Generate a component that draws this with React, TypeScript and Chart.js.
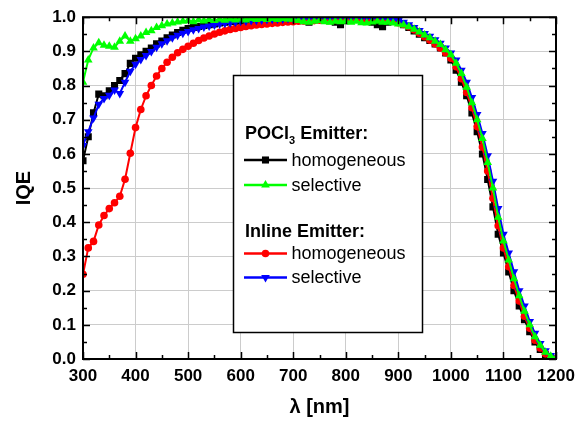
import React, { useEffect, useRef } from "react";
import { Chart, registerables } from "chart.js";

Chart.register(...registerables);

const wavelengths = [
  300, 310, 320, 330, 340, 350, 360, 370, 380, 390,
  400, 410, 420, 430, 440, 450, 460, 470, 480, 490,
  500, 510, 520, 530, 540, 550, 560, 570, 580, 590,
  600, 610, 620, 630, 640, 650, 660, 670, 680, 690,
  700, 710, 720, 730, 740, 750, 760, 770, 780, 790,
  800, 810, 820, 830, 840, 850, 860, 870, 880, 890,
  900, 910, 920, 930, 940, 950, 960, 970, 980, 990,
  1000, 1010, 1020, 1030, 1040, 1050, 1060, 1070, 1080, 1090,
  1100, 1110, 1120, 1130, 1140, 1150, 1160, 1170, 1180, 1190,
  1200,
];

const pocl3Homogeneous = [
  0.58, 0.65, 0.72, 0.775, 0.77, 0.785, 0.8, 0.815, 0.835, 0.865,
  0.88, 0.89, 0.9, 0.91, 0.922, 0.93, 0.94, 0.948, 0.955, 0.962,
  0.967, 0.97, 0.973, 0.976, 0.978, 0.98, 0.983, 0.985, 0.987, 0.988,
  0.99, 0.991, 0.992, 0.993, 0.993, 0.994, 0.995, 0.995, 0.996, 0.996,
  0.996, 0.995, 0.99, 0.985, 0.993, 0.995, 0.994, 0.99, 0.985, 0.978,
  0.99, 0.993, 0.994, 0.993, 0.99, 0.985, 0.978, 0.972, 0.985, 0.99,
  0.985, 0.978, 0.97, 0.96, 0.95, 0.94, 0.932, 0.922, 0.91, 0.895,
  0.875, 0.845, 0.81, 0.77, 0.72, 0.665, 0.6, 0.525, 0.445, 0.365,
  0.31, 0.255, 0.2, 0.155, 0.115, 0.08, 0.05, 0.028, 0.012, 0.004,
  0.001,
];

const pocl3Selective = [
  0.81, 0.875, 0.91, 0.925, 0.918, 0.915, 0.912, 0.93, 0.945, 0.93,
  0.937, 0.945, 0.955, 0.96, 0.97, 0.975, 0.98, 0.983, 0.986, 0.988,
  0.99, 0.987, 0.992, 0.989, 0.993, 0.99, 0.994, 0.991, 0.995, 0.992,
  0.995, 0.992, 0.996, 0.993, 0.996, 0.993, 0.996, 0.993, 0.996, 0.994,
  0.994, 0.99, 0.987, 0.985, 0.988, 0.99, 0.987, 0.985, 0.988, 0.987,
  0.988, 0.985, 0.988, 0.984, 0.983, 0.986, 0.988, 0.985, 0.985, 0.983,
  0.98, 0.977, 0.972, 0.965, 0.957, 0.948, 0.94, 0.93, 0.92, 0.905,
  0.89, 0.865, 0.835, 0.795, 0.75, 0.7, 0.645, 0.575, 0.5, 0.415,
  0.345, 0.29, 0.235, 0.185, 0.14, 0.1, 0.065, 0.04, 0.02, 0.008,
  0.002,
];

const inlineHomogeneous = [
  0.248, 0.325, 0.344, 0.392, 0.42, 0.44, 0.457, 0.476, 0.526, 0.602,
  0.677, 0.73, 0.77, 0.8, 0.828, 0.85, 0.868, 0.883, 0.896, 0.906,
  0.915, 0.924, 0.932, 0.939, 0.945, 0.951, 0.956, 0.96, 0.964, 0.967,
  0.97, 0.973, 0.975, 0.977, 0.979, 0.98, 0.982, 0.983, 0.985, 0.986,
  0.987, 0.988, 0.989, 0.99, 0.99, 0.991, 0.992, 0.992, 0.993, 0.993,
  0.994, 0.994, 0.995, 0.995, 0.995, 0.995, 0.994, 0.993, 0.991, 0.988,
  0.984, 0.979, 0.972, 0.963, 0.953, 0.943, 0.933, 0.922, 0.91, 0.896,
  0.88, 0.855, 0.82, 0.78, 0.735, 0.68, 0.62, 0.55, 0.47, 0.39,
  0.325, 0.27, 0.215, 0.17, 0.125, 0.09, 0.055, 0.032, 0.015, 0.006,
  0.001,
];

const inlineSelective = [
  0.625, 0.665, 0.705, 0.745, 0.762, 0.772, 0.787, 0.777, 0.81, 0.842,
  0.862, 0.876, 0.888, 0.9, 0.912, 0.922, 0.931, 0.94, 0.947, 0.953,
  0.958, 0.963, 0.967, 0.971, 0.974, 0.977, 0.98, 0.982, 0.984, 0.986,
  0.988, 0.989, 0.99, 0.991, 0.992, 0.993, 0.994, 0.995, 0.995, 0.996,
  0.996, 0.997, 0.997, 0.997, 0.998, 0.998, 0.998, 0.998, 0.999, 0.999,
  0.999, 0.999, 0.999, 0.999, 0.999, 0.998, 0.998, 0.997, 0.996, 0.994,
  0.99, 0.985, 0.978, 0.97, 0.961, 0.952, 0.944, 0.934, 0.924, 0.91,
  0.895, 0.875, 0.845, 0.81, 0.765, 0.715, 0.66, 0.595, 0.52, 0.44,
  0.365, 0.31, 0.255, 0.2, 0.155, 0.11, 0.075, 0.045, 0.024, 0.01,
  0.002,
];

const xTickValues = [300, 400, 500, 600, 700, 800, 900, 1000, 1100, 1200];
const yTickValues = [0, 0.1, 0.2, 0.3, 0.4, 0.5, 0.6, 0.7, 0.8, 0.9, 1.0];

const FONT = "'Liberation Sans', Arial, Helvetica, sans-serif";

type Series = {
  label: string;
  values: number[];
  color: string;
  style: string;
  radius: number;
  rotation: number;
  order: number;
};

const seriesList: Series[] = [
  { label: "homogeneous", values: pocl3Homogeneous, color: "#000000", style: "rect", radius: 5, rotation: 0, order: 3 },
  { label: "selective", values: pocl3Selective, color: "#00ff00", style: "triangle", radius: 5, rotation: 0, order: 0 },
  { label: "homogeneous", values: inlineHomogeneous, color: "#ff0000", style: "circle", radius: 3.8, rotation: 0, order: 2 },
  { label: "selective", values: inlineSelective, color: "#0000ff", style: "triangle", radius: 5, rotation: 180, order: 1 },
];

function drawMarker(ctx: CanvasRenderingContext2D, s: Series, x: number, y: number) {
  ctx.save();
  ctx.fillStyle = s.color;
  ctx.beginPath();
  const r = s.radius;
  if (s.style === "rect") {
    const h = r * Math.SQRT1_2;
    ctx.rect(x - h, y - h, 2 * h, 2 * h);
  } else if (s.style === "circle") {
    ctx.arc(x, y, r, 0, Math.PI * 2);
  } else {
    let rad = (s.rotation * Math.PI) / 180;
    ctx.moveTo(x + Math.sin(rad) * r, y - Math.cos(rad) * r);
    rad += (2 * Math.PI) / 3;
    ctx.lineTo(x + Math.sin(rad) * r, y - Math.cos(rad) * r);
    rad += (2 * Math.PI) / 3;
    ctx.lineTo(x + Math.sin(rad) * r, y - Math.cos(rad) * r);
    ctx.closePath();
  }
  ctx.fill();
  ctx.restore();
}

const framePlugin = {
  id: "frameTicks",
  afterDatasetsDraw(chart: any) {
    const { ctx, chartArea } = chart;
    const { left, right, top, bottom } = chartArea;
    const xs = chart.scales.x;
    const ys = chart.scales.y;
    ctx.save();
    ctx.strokeStyle = "#000";
    ctx.lineWidth = 1.5;
    for (let v = 300; v <= 1200; v += 50) {
      const px = Math.round(xs.getPixelForValue(v)) + 0.5;
      const len = v % 100 === 0 ? 7 : 4;
      ctx.beginPath();
      ctx.moveTo(px, bottom);
      ctx.lineTo(px, bottom - len);
      ctx.moveTo(px, top);
      ctx.lineTo(px, top + len);
      ctx.stroke();
    }
    for (let i = 0; i <= 20; i++) {
      const v = i * 0.05;
      const py = Math.round(ys.getPixelForValue(v)) + 0.5;
      const len = i % 2 === 0 ? 7 : 4;
      ctx.beginPath();
      ctx.moveTo(left, py);
      ctx.lineTo(left + len, py);
      ctx.moveTo(right, py);
      ctx.lineTo(right - len, py);
      ctx.stroke();
    }
    ctx.lineWidth = 2;
    ctx.strokeRect(left, top, right - left, bottom - top);
    ctx.restore();
  },
  afterDraw(chart: any) {
    const ctx: CanvasRenderingContext2D = chart.ctx;
    const bx0 = 233, by0 = 75, bx1 = 422, by1 = 332;
    ctx.save();
    ctx.fillStyle = "#ffffff";
    ctx.fillRect(bx0, by0, bx1 - bx0, by1 - by0);
    ctx.strokeStyle = "#000";
    ctx.lineWidth = 1.5;
    ctx.strokeRect(bx0 + 0.5, by0 + 0.5, bx1 - bx0, by1 - by0);

    ctx.fillStyle = "#000";
    ctx.textBaseline = "alphabetic";
    ctx.textAlign = "left";
    ctx.font = `bold 18px ${FONT}`;
    let hx = 245;
    const h1y = 138.5;
    ctx.fillText("POCl", hx, h1y);
    hx += ctx.measureText("POCl").width;
    ctx.font = `bold 11px ${FONT}`;
    ctx.fillText("3", hx, h1y + 5);
    hx += ctx.measureText("3").width;
    ctx.font = `bold 18px ${FONT}`;
    ctx.fillText(" Emitter:", hx, h1y);
    ctx.fillText("Inline Emitter:", 245, 237);

    const rows = [160, 185, 253.5, 277.5];
    seriesList.forEach((s, i) => {
      const y = rows[i];
      ctx.strokeStyle = s.color;
      ctx.lineWidth = 2.5;
      ctx.beginPath();
      ctx.moveTo(244, y);
      ctx.lineTo(287, y);
      ctx.stroke();
      drawMarker(ctx, s, 265.5, y);
      ctx.fillStyle = "#000";
      ctx.font = `18px ${FONT}`;
      ctx.textBaseline = "middle";
      ctx.fillText(s.label, 291.5, y + 1);
    });
    ctx.restore();
  },
};

export default function App() {
  const canvasRef = useRef<HTMLCanvasElement | null>(null);

  useEffect(() => {
    document.body.style.margin = "0";
    const canvas = canvasRef.current;
    if (!canvas) return;
    Chart.defaults.font.family = FONT;

    const datasets = seriesList.map((s) => ({
      label: s.label,
      data: wavelengths.map((w, i) => ({ x: w, y: s.values[i] })),
      borderColor: s.color,
      backgroundColor: s.color,
      borderWidth: 2,
      pointStyle: s.style,
      pointRadius: s.radius,
      pointRotation: s.rotation,
      pointBorderWidth: 0,
      pointBackgroundColor: s.color,
      tension: 0,
      clip: 0,
      order: s.order,
    }));

    const chart = new Chart(canvas, {
      type: "line",
      data: { datasets: datasets as any },
      options: {
        animation: false,
        responsive: false,
        devicePixelRatio: 1,
        layout: { padding: { left: 0, top: 11, right: 31, bottom: 0 } },
        plugins: { legend: { display: false }, tooltip: { enabled: false } },
        scales: {
          x: {
            type: "linear",
            min: 300,
            max: 1200,
            afterBuildTicks: (scale: any) => {
              scale.ticks = xTickValues.map((v) => ({ value: v }));
            },
            afterFit: (scale: any) => {
              scale.height = 67;
            },
            ticks: {
              color: "#000",
              font: { size: 17, weight: "bold", family: FONT },
              padding: 7,
              maxRotation: 0,
              autoSkip: false,
              callback: (v: any) => String(v),
            },
            grid: { color: "#cccccc", lineWidth: 1, drawTicks: false },
            border: { display: false },
            title: {
              display: true,
              text: "λ [nm]",
              color: "#000",
              font: { size: 20, weight: "bold", family: FONT },
              padding: { top: 0, bottom: 7 },
            },
          },
          y: {
            type: "linear",
            min: 0,
            max: 1,
            afterBuildTicks: (scale: any) => {
              scale.ticks = yTickValues.map((v) => ({ value: v }));
            },
            afterFit: (scale: any) => {
              scale.width = 83;
            },
            ticks: {
              color: "#000",
              font: { size: 17, weight: "bold", family: FONT },
              padding: 7,
              callback: (v: any) => Number(v).toFixed(1),
            },
            grid: { color: "#cccccc", lineWidth: 1, drawTicks: false },
            border: { display: false },
            title: {
              display: true,
              text: "IQE",
              color: "#000",
              font: { size: 20, weight: "bold", family: FONT },
              padding: { top: 12, bottom: 0 },
            },
          },
        },
      },
      plugins: [framePlugin],
    });

    return () => chart.destroy();
  }, []);

  return (
    <div style={{ position: "relative", width: 587, height: 426 }}>
      <canvas ref={canvasRef} width={587} height={426} />
    </div>
  );
}
